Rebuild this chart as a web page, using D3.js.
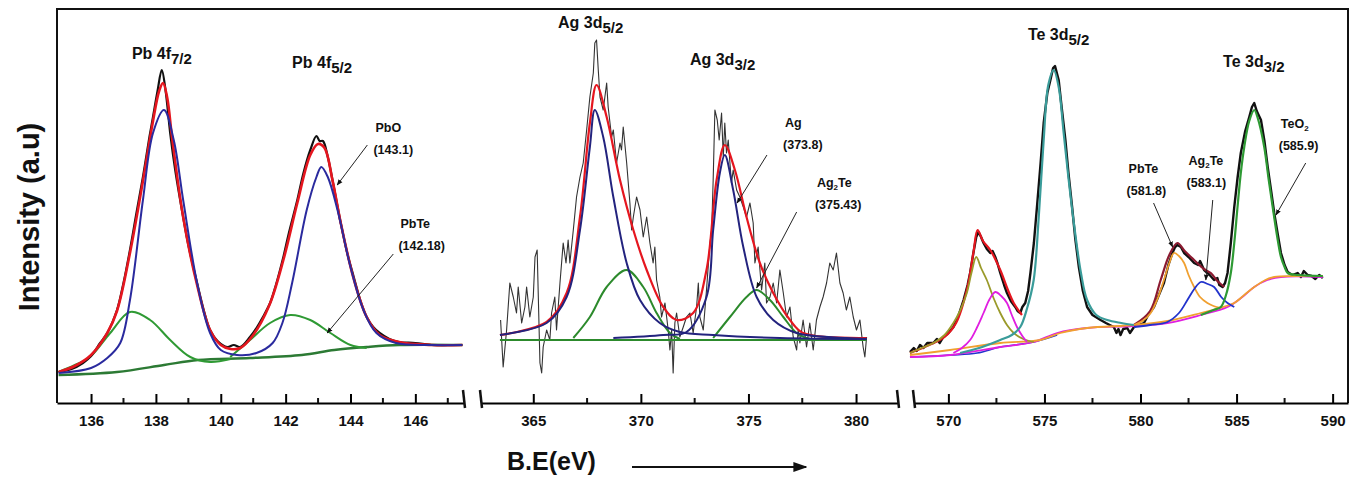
<!DOCTYPE html>
<html>
<head>
<meta charset="utf-8">
<script src="https://cdn.jsdelivr.net/npm/d3@7"></script>
<style>
  body { margin: 0; background: #fff; }
  text { font-family: "Liberation Sans", Arial, sans-serif; fill: #111; }
</style>
</head>
<body>
<svg id="chart" width="1354" height="478"></svg>
<script>
// ---- Pb 4f panel (eV, intensity a.u.) ----
const pbData = [[135.0,31],[135.4,34],[135.75,40],[136.0,47],[136.28,60],[136.5,70],[136.8,93],[137.0,120],[137.2,153],[137.4,190],[137.6,226],[137.8,266],[137.91,286],[138.05,312],[138.18,333],[138.3,312],[138.44,270],[138.6,232],[138.84,186],[139.0,158],[139.27,120],[139.5,90],[139.67,73],[139.9,62],[140.2,56],[140.4,58],[140.6,56],[140.9,66],[141.12,76],[141.3,86],[141.52,100],[141.7,118],[141.93,146],[142.1,170],[142.36,203],[142.55,230],[142.76,253],[142.95,267],[143.05,262],[143.15,262],[143.3,246],[143.45,222],[143.7,180],[143.9,150],[144.1,126],[144.3,103],[144.5,86],[144.7,76],[144.9,70],[145.2,64],[145.5,61],[146.0,60],[146.5,58],[147.0,58],[147.45,58]];
const pbEnvelope = [[135.0,31],[135.5,37],[136.0,48],[136.5,70],[136.8,92],[137.2,150],[137.6,222],[137.9,280],[138.1,312],[138.22,320],[138.35,305],[138.5,265],[138.84,186],[139.27,118],[139.67,73],[140.0,58],[140.3,54],[140.6,55],[141.0,68],[141.5,98],[141.93,143],[142.36,200],[142.76,248],[143.0,259],[143.2,255],[143.45,222],[143.7,180],[144.1,124],[144.5,86],[144.9,68],[145.5,61],[146.5,58],[147.45,58]];
const pbPbO = [[135.0,30],[136.0,35],[136.5,45],[136.9,60],[137.2,103],[137.6,203],[137.91,270],[138.25,293],[138.55,263],[138.84,203],[139.27,120],[139.67,70],[140.0,53],[140.5,48],[141.1,50],[141.6,60],[141.9,80],[142.2,120],[142.65,193],[142.95,226],[143.1,236],[143.3,226],[143.6,193],[144.0,136],[144.4,93],[144.8,70],[145.4,60],[146.5,58],[147.45,58]];
const pbPbTe1 = [[135.0,31],[135.5,38],[135.97,46],[136.59,70],[137.2,91],[137.82,83],[138.44,63],[139.06,46],[139.67,41],[140.3,44]];
const pbPbTe2 = [[140.29,46],[140.9,63],[141.52,80],[142.14,88],[142.76,83],[143.38,70],[144.0,58],[144.5,55]];
const pbBackground = [[135.0,28],[136.8,31],[138.25,38],[139.3,43],[140.9,45],[142.5,48],[143.5,53],[144.5,56],[145.5,58],[147.45,58]];

// ---- Ag 3d panel ----
const agData = [[363.48,83],[363.6,36],[363.76,73],[363.91,120],[364.07,106],[364.22,90],[364.3,116],[364.46,80],[364.61,96],[364.69,116],[364.84,86],[365.0,106],[365.08,146],[365.18,153],[365.31,40],[365.39,30],[365.46,56],[365.62,73],[365.77,63],[365.85,90],[366.0,106],[366.08,73],[366.24,120],[366.39,160],[366.52,140],[366.62,163],[366.7,140],[366.86,173],[367.01,206],[367.17,226],[367.32,240],[367.48,273],[367.63,306],[367.79,330],[367.86,360],[367.94,363],[368.02,333],[368.1,306],[368.25,293],[368.41,320],[368.48,296],[368.64,266],[368.72,273],[368.87,240],[369.03,260],[369.1,253],[369.18,276],[369.34,240],[369.49,200],[369.57,173],[369.65,186],[369.8,206],[369.96,193],[370.11,166],[370.27,186],[370.42,160],[370.57,140],[370.65,156],[370.73,123],[370.88,106],[370.96,86],[371.12,100],[371.27,73],[371.35,53],[371.43,73],[371.5,30],[371.58,80],[371.66,90],[371.81,66],[371.97,76],[372.12,86],[372.28,90],[372.43,70],[372.59,96],[372.67,120],[372.74,86],[372.9,73],[373.05,113],[373.21,160],[373.29,173],[373.36,223],[373.44,293],[373.55,283],[373.64,263],[373.75,290],[373.83,246],[373.9,280],[373.98,250],[374.06,263],[374.14,240],[374.21,220],[374.29,233],[374.45,213],[374.6,206],[374.76,196],[374.91,186],[375.07,200],[375.22,180],[375.3,140],[375.45,156],[375.61,113],[375.76,140],[375.84,100],[376.0,106],[376.15,120],[376.31,100],[376.46,133],[376.62,110],[376.77,86],[376.93,96],[377.08,66],[377.24,53],[377.31,73],[377.39,60],[377.54,83],[377.7,56],[377.85,80],[378.01,53],[378.16,83],[378.32,96],[378.47,106],[378.63,120],[378.78,140],[378.94,133],[379.09,150],[379.25,120],[379.4,110],[379.55,93],[379.71,106],[379.87,86],[380.02,73],[380.18,83],[380.33,56],[380.41,46],[380.49,66]];
const agEnvelope = [[363.45,68],[365.62,81],[366.55,110],[367.17,186],[367.63,280],[367.94,318],[368.41,286],[369.03,223],[369.65,173],[370.27,133],[371.04,96],[371.66,83],[372.43,90],[373.05,133],[373.52,223],[373.9,258],[374.37,233],[374.91,186],[375.53,140],[376.15,110],[376.93,83],[377.54,70],[380.49,65]];
const agMetal1 = [[363.45,68],[365.62,80],[366.55,106],[367.17,173],[367.63,256],[367.86,293],[368.25,266],[368.72,206],[369.34,140],[369.96,103],[370.88,80],[371.81,71],[373.36,68],[376.46,65],[380.49,64]];
const agMetal2 = [[368.72,65],[371.04,68],[372.12,71],[373.05,106],[373.36,173],[373.67,230],[373.9,248],[374.29,213],[374.76,156],[375.38,106],[376.15,83],[377.24,70],[379.55,65],[380.49,64]];
const agAg2Te1 = [[366.86,65],[367.63,86],[368.41,116],[369.34,133],[370.11,116],[370.73,90],[371.35,70],[371.81,64]];
const agAg2Te2 = [[373.36,65],[374.14,86],[374.91,106],[375.38,113],[376.0,103],[376.62,86],[377.24,70],[377.85,64]];
const agBaseline = [[363.45,63],[380.49,63]];

// ---- Te 3d panel ----
const teData = [[568.0,51],[568.2,55],[568.35,52],[568.52,58],[568.7,55],[568.9,60],[569.22,60],[569.4,64],[569.55,60],[569.74,66],[570.0,70],[570.26,76],[570.5,86],[570.79,103],[571.0,118],[571.13,130],[571.3,150],[571.45,166],[571.57,171],[571.7,166],[571.83,160],[572.0,154],[572.18,150],[572.3,152],[572.44,146],[572.55,140],[572.7,130],[572.9,118],[573.05,110],[573.25,102],[573.48,96],[573.6,92],[573.74,90],[573.85,96],[574.0,100],[574.15,112],[574.27,130],[574.45,160],[574.61,196],[574.8,240],[574.96,280],[575.15,310],[575.31,323],[575.45,335],[575.55,337],[575.74,323],[575.9,295],[576.09,263],[576.25,230],[576.44,196],[576.6,165],[576.79,136],[577.0,112],[577.22,96],[577.5,88],[577.92,83],[578.2,80],[578.4,78],[578.61,76],[578.75,70],[578.85,74],[578.96,68],[579.1,74],[579.31,75],[579.45,70],[579.66,76],[579.9,78],[580.18,80],[580.4,88],[580.7,96],[581.0,110],[581.22,120],[581.45,138],[581.66,150],[581.8,156],[581.92,158],[582.1,156],[582.27,150],[582.5,146],[582.79,140],[583.0,138],[583.1,142],[583.31,133],[583.6,128],[583.83,123],[584.0,125],[584.1,118],[584.27,116],[584.4,120],[584.53,130],[584.7,160],[584.88,196],[585.05,225],[585.22,250],[585.45,272],[585.66,286],[585.8,296],[585.92,300],[586.05,292],[586.27,283],[586.45,262],[586.62,236],[586.8,212],[586.96,190],[587.15,168],[587.31,150],[587.5,138],[587.66,131],[587.9,128],[588.18,130],[588.35,126],[588.5,132],[588.7,128],[588.9,127],[589.1,124],[589.3,128],[589.49,125]];
const teEnvelope1 = [[568.0,50],[569.0,58],[569.8,66],[570.4,80],[570.96,113],[571.3,150],[571.52,173],[571.8,162],[572.18,153],[572.7,133],[573.1,113],[573.4,100],[573.83,88]];
const teEnvelope2 = [[579.66,78],[580.5,92],[581.05,123],[581.5,148],[581.92,160],[582.3,152],[582.79,143],[583.3,134],[583.66,130],[584.0,122],[584.36,116]];
const teMain = [[570.61,50],[571.6,55],[572.7,63],[573.3,68],[573.74,76],[574.1,95],[574.44,123],[574.7,185],[574.96,263],[575.2,318],[575.48,333],[575.75,315],[576.0,270],[576.25,225],[576.53,180],[576.9,130],[577.22,103],[577.7,88],[578.27,83],[579.0,80],[579.66,78]];
const teOlive = [[568.0,50],[568.6,55],[569.22,60],[569.8,68],[570.26,80],[570.6,92],[570.96,110],[571.2,130],[571.45,146],[571.7,135],[572.0,123],[572.35,105],[572.7,90],[573.05,78],[573.4,70],[573.9,64],[574.44,61]];
const teMagenta = [[570.26,50],[570.7,55],[571.13,63],[571.5,76],[571.83,90],[572.15,104],[572.44,111],[572.75,107],[573.05,100],[573.3,88],[573.57,76],[573.85,67],[574.09,61]];
const teMagentaBase = [[568.0,46],[570.09,48],[572.7,56],[574.44,61],[575.66,70],[577.22,75],[579.66,77],[581.4,80],[583.14,88],[584.53,96],[585.3,106],[585.92,116],[586.6,123],[587.31,126],[589.49,126]];
const teBlueBase = [[568.0,46],[570.09,48],[571.5,50],[572.7,56],[574.44,61],[575.66,68]];
const teBackground = [[568.0,48],[570.09,53],[572.7,60],[574.79,63],[575.83,70],[577.22,75],[579.66,78],[581.4,82],[583.14,90],[584.1,95],[584.88,100],[585.4,108],[585.92,116],[586.5,123],[586.96,126],[588.0,127],[589.49,127]];
const tePbTe = [[579.66,78],[580.1,82],[580.53,90],[580.9,105],[581.22,123],[581.5,140],[581.74,150],[582.0,147],[582.27,140],[582.5,128],[582.79,116],[583.1,106],[583.48,100],[583.8,97],[584.18,95]];
const teAg2Te = [[579.66,76],[580.5,78],[581.4,81],[582.0,90],[582.44,103],[582.8,114],[583.14,121],[583.5,119],[583.83,116],[584.2,106],[584.53,100],[584.88,96]];
const teTeO2 = [[583.14,88],[583.8,93],[584.18,96],[584.45,108],[584.7,130],[584.88,160],[585.05,196],[585.22,230],[585.4,256],[585.66,282],[585.92,293],[586.1,285],[586.44,256],[586.66,225],[586.88,196],[587.1,168],[587.31,146],[587.5,136],[587.66,130],[588.2,128],[589.49,127]];

// tick values
const pbTicks = [136, 138, 140, 142, 144, 146];
const pbMinor = [137, 139, 141, 143, 145, 147];
const agTicks = [365, 370, 375, 380];
const agMinor = [367.5, 372.5, 377.5];
const teTicks = [570, 575, 580, 585, 590];
const teMinor = [572.5, 577.5, 582.5, 587.5];

// peak titles: [main, sub, eV, intensity]
const pbTitles = [["Pb 4f", "7/2", 137.26, 344], ["Pb 4f", "5/2", 142.2, 335]];
const agTitles = [["Ag 3d", "5/2", 366.15, 375], ["Ag 3d", "3/2", 372.28, 338]];
const teTitles = [["Te 3d", "5/2", 574.14, 363], ["Te 3d", "3/2", 584.3, 336]];

// annotations: [name, sub, rest, value, eV, intensity, line from, line to]
const pbNotes = [
  ["PbO", "", "", "(143.1)", 144.77, 271, [144.52, 258], [143.59, 218]],
  ["PbTe", "", "", "(142.18)", 145.54, 175, [145.32, 149], [143.28, 70]]
];
const agNotes = [
  ["Ag", "", "", "(373.8)", 376.7, 276, [375.86, 248], [374.47, 200]],
  ["Ag", "2", "Te", "(375.43)", 378.18, 216, [377.24, 191], [375.38, 115]]
];
const teNotes = [
  ["PbTe", "", "", "(581.8)", 579.38, 230, [580.68, 200], [581.67, 156]],
  ["Ag", "2", "Te", "(583.1)", 582.5, 238, [583.76, 203], [583.4, 123]],
  ["TeO", "2", "", "(585.9)", 587.3, 275, [588.6, 240], [587.05, 188]]
];

const svg = d3.select('#chart');
const plotTop = 9, plotBottom = 403, frameLeft = 57, frameRight = 1348;

// shared intensity scale (arbitrary units)
const y = d3.scaleLinear().domain([0, 394]).range([plotBottom, plotTop]);

const panels = [
  {
    domain: [134.95, 147.5], range: [frameLeft, 464], ticks: pbTicks, minor: pbMinor,
    titles: pbTitles, notes: pbNotes,
    curves: [
      { d: pbBackground, c: '#2c7a34', w: 2.5 },
      { d: pbPbTe1, c: '#2f9a34', w: 2 },
      { d: pbPbTe2, c: '#2f9a34', w: 2 },
      { d: pbData, c: '#111', w: 2.2 },
      { d: pbEnvelope, c: '#e5161f', w: 2.6 },
      { d: pbPbO, c: '#2a2a9e', w: 2 }
    ]
  },
  {
    domain: [362.57, 381.95], range: [481, 898], ticks: agTicks, minor: agMinor,
    titles: agTitles, notes: agNotes,
    curves: [
      { d: agData, c: '#333', w: 1.1, linear: true },
      { d: agBaseline, c: '#2c8a2c', w: 2.2 },
      { d: agAg2Te1, c: '#2c8a2c', w: 2 },
      { d: agAg2Te2, c: '#2c8a2c', w: 2 },
      { d: agEnvelope, c: '#e5161f', w: 2.2 },
      { d: agMetal1, c: '#23237e', w: 2 },
      { d: agMetal2, c: '#23237e', w: 2 }
    ]
  },
  {
    domain: [568.21, 590.8], range: [914, frameRight], ticks: teTicks, minor: teMinor,
    titles: teTitles, notes: teNotes,
    curves: [
      { d: teData, c: '#111', w: 2.4, linear: true },
      { d: teBlueBase, c: '#2233cc', w: 1.6 },
      { d: teMagentaBase, c: '#e01ee0', w: 1.8 },
      { d: teBackground, c: '#f0a030', w: 1.8 },
      { d: teEnvelope1, c: '#e5161f', w: 2.2 },
      { d: teEnvelope2, c: '#8b1a30', w: 2.2 },
      { d: teOlive, c: '#9a9a2a', w: 1.8 },
      { d: teMagenta, c: '#e01ee0', w: 1.8 },
      { d: teMain, c: '#3a9c9a', w: 2.2 },
      { d: tePbTe, c: '#f0a030', w: 1.8 },
      { d: teAg2Te, c: '#2233cc', w: 1.8 },
      { d: teTeO2, c: '#2e9a34', w: 2.2 }
    ]
  }
];

// arrow heads
const defs = svg.append('defs');
defs.append('marker')
  .attr('id', 'tip').attr('viewBox', '0 0 10 10').attr('refX', 9).attr('refY', 5)
  .attr('markerWidth', 6).attr('markerHeight', 6).attr('orient', 'auto')
  .append('path').attr('d', 'M0,1 L10,5 L0,9 Z').attr('fill', '#111');
defs.append('marker')
  .attr('id', 'bigtip').attr('viewBox', '0 0 10 10').attr('refX', 9).attr('refY', 5)
  .attr('markerWidth', 7).attr('markerHeight', 7).attr('orient', 'auto')
  .append('path').attr('d', 'M0,1.5 L10,5 L0,8.5 Z').attr('fill', '#111');

// frame: top, left and right sides
svg.append('path')
  .attr('d', `M${frameLeft},${plotBottom} V${plotTop} H${frameRight} V${plotBottom}`)
  .attr('fill', 'none').attr('stroke', '#111').attr('stroke-width', 2);

panels.forEach((p, i) => {
  const x = d3.scaleLinear().domain(p.domain).range(p.range);

  // curves
  p.curves.forEach(cv => {
    const line = d3.line()
      .x(d => x(d[0]))
      .y(d => y(d[1]))
      .curve(cv.linear ? d3.curveLinear : d3.curveCatmullRom.alpha(0.5));
    svg.append('path')
      .datum(cv.d)
      .attr('fill', 'none')
      .attr('stroke', cv.c)
      .attr('stroke-width', cv.w)
      .attr('stroke-linejoin', 'round')
      .attr('d', line);
  });

  // axis with inward ticks
  const ax = svg.append('g').attr('transform', `translate(0,${plotBottom})`);
  ax.call(d3.axisBottom(x).tickValues(p.ticks).tickSize(-9).tickSizeOuter(0).tickPadding(12).tickFormat(d3.format('d')));
  ax.select('.domain').attr('stroke-width', 2);
  ax.selectAll('.tick line').attr('stroke-width', 2);
  ax.selectAll('.tick text')
    .style('font-size', '15px').style('font-weight', 'bold')
    .attr('fill', '#222').attr('dy', '0.71em');
  ax.selectAll('.minor').data(p.minor).enter().append('line')
    .attr('x1', d => x(d)).attr('x2', d => x(d))
    .attr('y1', 0).attr('y2', -5)
    .attr('stroke', '#111').attr('stroke-width', 2);

  // break marks at the ends of the broken axis
  const ends = [];
  if (i > 0) ends.push(p.range[0]);
  if (i < panels.length - 1) ends.push(p.range[1]);
  ends.forEach(e => {
    ax.append('line')
      .attr('x1', e - 1).attr('x2', e + 1).attr('y1', -13).attr('y2', 5)
      .attr('stroke', '#111').attr('stroke-width', 2.5);
  });

  // peak titles with subscripts
  p.titles.forEach(t => {
    const tx = svg.append('text')
      .attr('x', x(t[2])).attr('y', y(t[3]))
      .style('font-size', '16px').style('font-weight', 'bold');
    tx.append('tspan').text(t[0]);
    tx.append('tspan').attr('dy', 5).style('font-size', '15px').text(t[1]);
  });

  // component annotations: name, value below it, leader arrow
  p.notes.forEach(n => {
    const tx = svg.append('text')
      .attr('x', x(n[4])).attr('y', y(n[5]))
      .style('font-size', '12.5px').style('font-weight', 'bold').attr('fill', '#222');
    tx.append('tspan').text(n[0]);
    if (n[1]) tx.append('tspan').attr('dy', 3).style('font-size', '8px').text(n[1]);
    if (n[2]) tx.append('tspan').attr('dy', -3).text(n[2]);
    svg.append('text')
      .attr('x', x(n[4]) - 2).attr('y', y(n[5]) + 22)
      .style('font-size', '12.5px').style('font-weight', 'bold').attr('fill', '#222')
      .text(n[3]);
    svg.append('line')
      .attr('x1', x(n[6][0])).attr('y1', y(n[6][1]))
      .attr('x2', x(n[7][0])).attr('y2', y(n[7][1]))
      .attr('stroke', '#222').attr('stroke-width', 1)
      .attr('marker-end', 'url(#tip)');
  });
});

// axis titles
svg.append('text')
  .attr('transform', 'translate(39,217) rotate(-90)')
  .attr('text-anchor', 'middle')
  .style('font-size', '29px').style('font-weight', 'bold')
  .text('Intensity (a.u)');

svg.append('text')
  .attr('x', 507).attr('y', 470)
  .style('font-size', '25px').style('font-weight', 'bold')
  .text('B.E(eV)');

svg.append('line')
  .attr('x1', 632).attr('y1', 467).attr('x2', 806).attr('y2', 467)
  .attr('stroke', '#111').attr('stroke-width', 2)
  .attr('marker-end', 'url(#bigtip)');
</script>
</body>
</html>
